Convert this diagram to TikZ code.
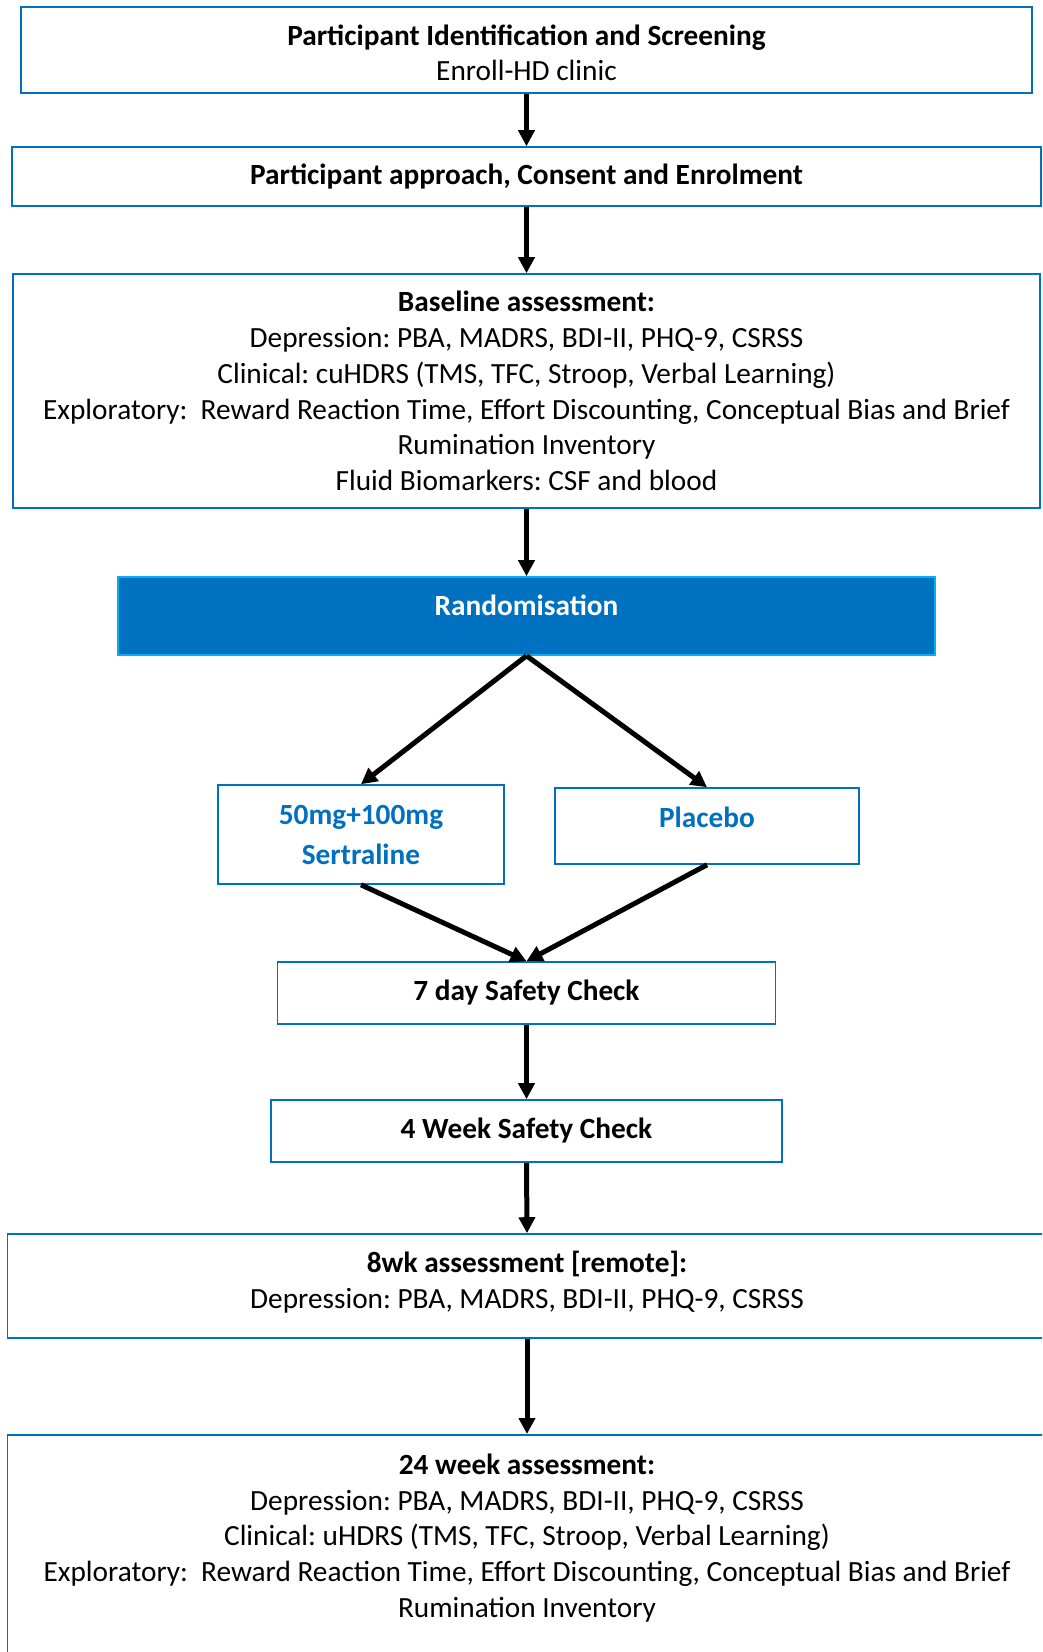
\documentclass[tikz,border=0pt]{standalone}
\usepackage{fontspec}
\setmainfont{Carlito}
\usetikzlibrary{arrows.meta}
\definecolor{boxblue}{HTML}{0070C0}
\definecolor{randblue}{HTML}{0070C0}
\definecolor{randedge}{HTML}{00B0F0}
\frenchspacing
\begin{document}
\begin{tikzpicture}[x=1pt, y=-1pt, box/.style = {draw=boxblue, line width=1.6pt, fill=white, align=center, font=\fontsize{29.3}{35.8}\selectfont}, flow/.style = {-{Triangle[length=16pt,width=16pt]}, line width=5pt}]

		\useasboundingbox (0,0) rectangle (1042,1652);
		\clip (0,0) rectangle (1042,1652);

		\node[box, minimum width=1011pt, minimum height=86pt] (screen) at (526.5,50) {\rule{0pt}{26pt}\textbf{Participant Identification and Screening}\\Enroll-HD clinic};
		\node[box, minimum width=1029pt, minimum height=59pt] (consent) at (526.5,176.5) {\textbf{Participant approach, Consent and Enrolment}};
		\node[box, minimum width=1027pt, minimum height=234pt] (baseline) at (526.5,391) {\textbf{Baseline assessment:}\\Depression: PBA, MADRS, BDI-II, PHQ-9, CSRSS\\Clinical: cuHDRS (TMS, TFC, Stroop, Verbal Learning)\\Exploratory:~ Reward Reaction Time, Effort Discounting, Conceptual Bias and Brief\\Rumination Inventory\\Fluid Biomarkers: CSF and blood};
		\node[box, draw=randedge, fill=randblue, text=white, minimum width=817pt, minimum height=78pt, text height=20pt, text depth=21pt] (random) at (526.5,616) {\textbf{Randomisation}};
		\node[box, text=boxblue, minimum width=286pt, minimum height=99pt] (sert) at (361,834.5) {\textbf{50mg+100mg}\\[4.2pt]\textbf{Sertraline}};
		\node[box, text=boxblue, minimum width=304pt, minimum height=76pt, text height=20pt, text depth=17pt] (placebo) at (707,826) {\textbf{Placebo}};
		\node[box, minimum width=498pt, minimum height=62pt] (day7) at (526.5,993) {\textbf{7 day Safety Check}};
		\node[box, minimum width=511pt, minimum height=62pt] (week4) at (526.5,1131) {\textbf{4 Week Safety Check}};
		\node[box, minimum width=1039pt, minimum height=104pt] (week8) at (527,1286) {\textbf{8wk assessment [remote]:}\\Depression: PBA, MADRS, BDI-II, PHQ-9, CSRSS\rule[-12pt]{0pt}{0pt}};
		\node[box, anchor=north, minimum width=1039pt, inner ysep=19pt, text depth=300pt] (week24) at (527,1434) {\textbf{24 week assessment:}\\Depression: PBA, MADRS, BDI-II, PHQ-9, CSRSS\\Clinical: uHDRS (TMS, TFC, Stroop, Verbal Learning)\\Exploratory:~ Reward Reaction Time, Effort Discounting, Conceptual Bias and Brief\\Rumination Inventory};

		\draw[flow] (screen.south) to (consent.north);
		\draw[flow] (consent.south) to (baseline.north);
		\draw[flow] (baseline.south) to (random.north);
		\draw[flow] (random.south) to (sert.north);
		\draw[flow] (random.south) to (placebo.north);
		\draw[flow] (sert.south) to (day7.north);
		\draw[flow] (placebo.south) to (day7.north);
		\draw[flow] (day7.south) to (week4.north);
		\draw[flow] (week4.south) to (week8.north);
		\draw[flow] (week8.south) to (week24.north);
	\end{tikzpicture}
\end{document}
